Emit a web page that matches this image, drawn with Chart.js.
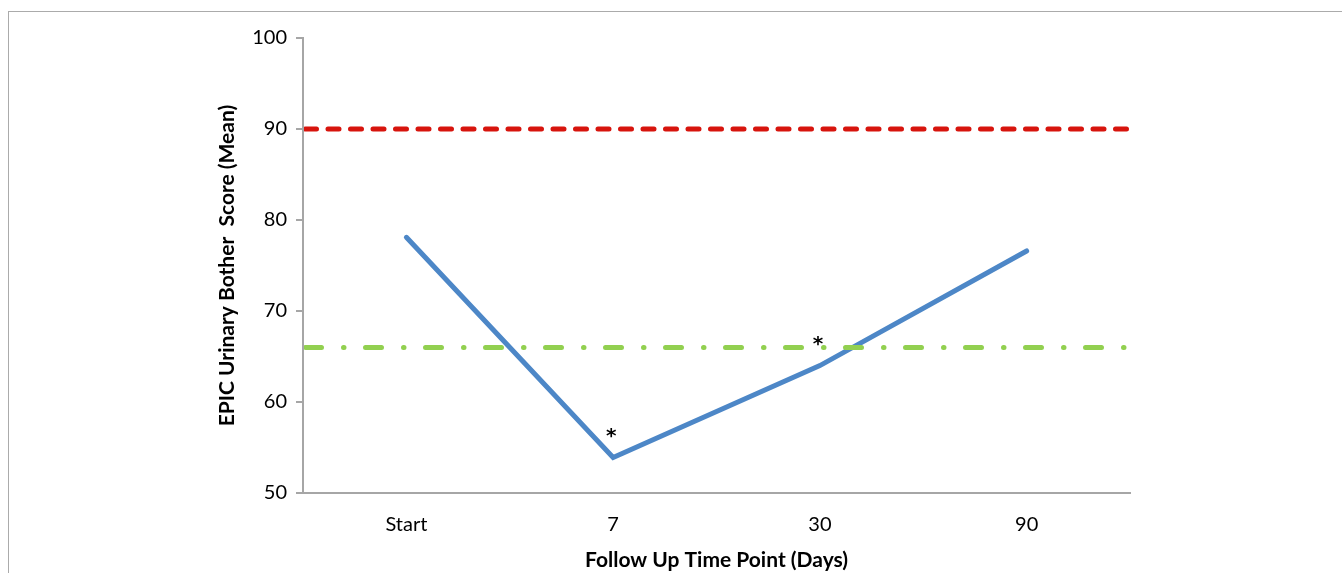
<!DOCTYPE html>
<html>
<head>
<meta charset="utf-8">
<script src="https://cdn.jsdelivr.net/npm/chart.js@4.4.1/dist/chart.umd.min.js"></script>
<style>
    html, body { margin: 0; padding: 0; background: #fff; }
    #wrap { position: relative; width: 1342px; height: 573px; overflow: hidden; }
    #frame { position: absolute; left: 8px; top: 11px; width: 1400px; height: 700px; border-top: 1px solid #ababab; border-left: 1px solid #ababab; }
    canvas { position: absolute; left: 0; top: 0; }
</style>
</head>
<body>
<div id="wrap">
    <div id="frame"></div>
    <canvas id="myChart" width="1342" height="573"></canvas>
</div>
<script>
// Datos
const timePoints = ["Start", "7", "30", "90"];
const botherMean = [78.1, 53.9, 64.0, 76.6];
const significance = ["", "*", "*", ""];
const referenceLevels = [90, 66];
const yTicks = [50, 60, 70, 80, 90, 100];

// Estilo de las líneas de referencia (roja discontinua, verde punto-raya)
const referenceStyles = [
    { color: "#d7140d", width: 5, dash: [11, 11.5] },
    { color: "#92d050", width: 5, dash: [16, 22, 0.5, 21.5] }
];

const axisGray = "#a6a6a6";
const tickFont = { family: "Lato", size: 20 };
const titleFont = { family: "Lato", size: 21, weight: "bold" };

// Líneas horizontales de referencia, dibujadas con la escala Y
const referenceLinesPlugin = {
    id: "referenceLines",
    afterDatasetsDraw(chart) {
        const { ctx, chartArea, scales } = chart;
        ctx.save();
        ctx.beginPath();
        ctx.rect(chartArea.left + 1, chartArea.top - 10, chartArea.width, chartArea.height + 10);
        ctx.clip();
        referenceLevels.forEach((level, i) => {
            const s = referenceStyles[i];
            const y = scales.y.getPixelForValue(level);
            ctx.strokeStyle = s.color;
            ctx.lineWidth = s.width;
            ctx.lineCap = "round";
            ctx.setLineDash(s.dash);
            ctx.beginPath();
            ctx.moveTo(chartArea.left + 2.5, y);
            ctx.lineTo(chartArea.right, y);
            ctx.stroke();
        });
        ctx.restore();
    }
};

// Asteriscos de significancia sobre los puntos
const significancePlugin = {
    id: "significance",
    afterDatasetsDraw(chart) {
        const { ctx } = chart;
        const points = chart.getDatasetMeta(0).data;
        ctx.save();
        ctx.fillStyle = "#000";
        ctx.font = "bold 20px 'DejaVu Sans'";
        ctx.textAlign = "center";
        ctx.textBaseline = "alphabetic";
        significance.forEach((mark, i) => {
            if (!mark) return;
            ctx.fillText(mark, points[i].x - 2, points[i].y - 16);
        });
        ctx.restore();
    }
};

const ctx = document.getElementById("myChart").getContext("2d");
new Chart(ctx, {
    type: "line",
    data: {
        labels: timePoints,
        datasets: [{
            data: botherMean,
            borderColor: "#4d87c7",
            borderWidth: 5,
            borderCapStyle: "round",
            borderJoinStyle: "miter",
            pointRadius: 0,
            tension: 0,
            clip: false
        }]
    },
    options: {
        responsive: false,
        animation: false,
        layout: { padding: { left: 210, right: 212, top: 38, bottom: 0 } },
        plugins: { legend: { display: false }, tooltip: { enabled: false } },
        scales: {
            x: {
                offset: true,
                grid: { display: false, drawTicks: false },
                border: { color: axisGray, width: 2 },
                ticks: { color: "#000", font: tickFont, padding: 20 },
                title: {
                    display: true,
                    text: "Follow Up Time Point (Days)",
                    color: "#000",
                    font: titleFont,
                    padding: { top: 0, bottom: 0 }
                },
                afterFit(scale) { scale.height = 80; }
            },
            y: {
                min: 50,
                max: 100,
                afterBuildTicks(scale) { scale.ticks = yTicks.map(v => ({ value: v })); },
                grid: { drawOnChartArea: false, drawTicks: true, tickLength: 7, color: axisGray, lineWidth: 2 },
                border: { color: axisGray, width: 2 },
                ticks: { color: "#000", font: tickFont, padding: 9 },
                title: {
                    display: true,
                    text: "EPIC Urinary Bother  Score (Mean)",
                    color: "#000",
                    font: titleFont,
                    padding: { top: 5, bottom: 0 }
                },
                afterFit(scale) { scale.width = 93; }
            }
        }
    },
    plugins: [referenceLinesPlugin, significancePlugin]
});
</script>
</body>
</html>
